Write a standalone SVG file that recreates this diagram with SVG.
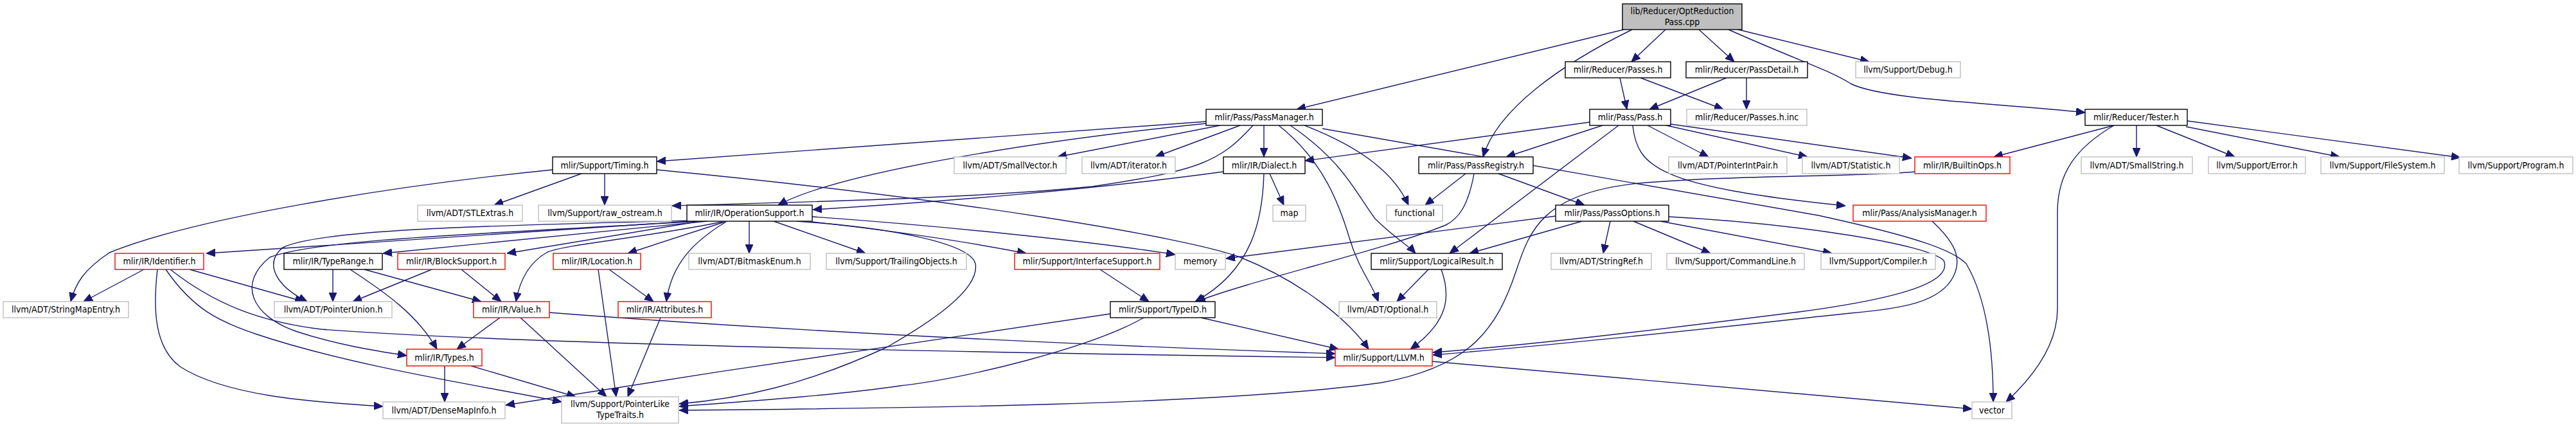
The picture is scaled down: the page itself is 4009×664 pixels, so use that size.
<svg xmlns="http://www.w3.org/2000/svg" width="4009" height="664" viewBox="0 0 4009 664">
<defs>
<marker id="ah" markerUnits="userSpaceOnUse" markerWidth="14" markerHeight="12" refX="14" refY="6" orient="auto"><path d="M0,0 L14,6 L0,12 z" fill="#191970" stroke="#191970" stroke-width="1"/></marker>
<style>
.n rect{fill:#fff;stroke-width:1.4}
.b rect{stroke:#000}
.g rect{stroke:#bfbfbf}
.r rect{stroke:#ff0000}
.root rect{fill:#bfbfbf;stroke:#000}
text{font-family:"DejaVu Sans Condensed","DejaVu Sans",sans-serif;font-stretch:condensed;font-size:14px;fill:#000;text-anchor:middle}
#edges path{fill:none;stroke:#191970;stroke-width:1.4;marker-end:url(#ah)}
</style>
</defs>
<rect width="4009" height="664" fill="#fff"/>
<g id="edges">
<path d="M2527,46 L2018,170"/>
<path d="M2540,46 C2430,100 2330,170 2308,244"/>
<path d="M2592,46 L2539,96"/>
<path d="M2644,46 L2699,96"/>
<path d="M2705,46 L2909,96"/>
<path d="M2690,46 C2800,95 2850,110 2880,130 C2930,155 3100,160 3245,175"/>
<path d="M2521,121 L2532,170"/>
<path d="M2553,121 L2682,170"/>
<path d="M2687,121 L2567,170"/>
<path d="M2718,121 L2718,170"/>
<path d="M2474,190 L2031,250"/>
<path d="M2494,195 L2344,244"/>
<path d="M2519,195 L2256,394"/>
<path d="M2564,195 L2659,244"/>
<path d="M2593,195 L2813,244"/>
<path d="M2600,193 L2975,246"/>
<path d="M2541,195 C2548,260 2580,290 2872,320"/>
<path d="M3290,195 L3103,244"/>
<path d="M3325,195 L3325,244"/>
<path d="M3356,195 L3478,244"/>
<path d="M3402,197 L3641,244"/>
<path d="M3404,188 L3829,245"/>
<path d="M3290,195 C3230,230 3202,270 3202,330 L3202,480 C3202,540 3160,590 3122,625"/>
<path d="M1877,189 L1022,251"/>
<path d="M1877,192 C1600,220 1300,270 1211,319"/>
<path d="M1899,195 L1646,244"/>
<path d="M1930,195 L1798,244"/>
<path d="M1950,195 C1900,250 1870,265 1700,290 C1500,310 1200,315 1046,320"/>
<path d="M1967,195 L1967,244"/>
<path d="M1990,195 C2060,250 2085,320 2100,370 C2115,420 2135,440 2145,469"/>
<path d="M2008,195 C2090,250 2110,300 2140,340 C2170,370 2190,380 2203,394"/>
<path d="M2030,195 C2120,230 2170,270 2192,319"/>
<path d="M2058,200 L2830,335 C2990,370 3040,390 3060,410 C3095,470 3102,560 3102,625"/>
<path d="M905,270 L769,319"/>
<path d="M941,270 L941,319"/>
<path d="M860,264 C600,290 300,340 170,393 C130,420 118,440 110,469"/>
<path d="M1022,264 C1500,310 1850,370 1930,400 C2030,440 2100,500 2130,543"/>
<path d="M1904,267 C1700,295 1450,315 1265,326"/>
<path d="M1976,270 L1998,319"/>
<path d="M1967,270 C1965,340 1950,420 1860,469"/>
<path d="M2281,270 L2218,319"/>
<path d="M2332,270 L2466,319"/>
<path d="M2294,270 C2285,320 2270,340 2250,350 C2150,390 1950,435 1862,469"/>
<path d="M2421,336 L1908,402"/>
<path d="M2462,344 L2287,394"/>
<path d="M2506,344 L2495,394"/>
<path d="M2542,344 L2662,394"/>
<path d="M2584,344 L2851,394"/>
<path d="M2597,337 C2800,348 3000,380 3025,405 C3040,440 2950,465 2800,485 C2600,510 2400,535 2230,548"/>
<path d="M3007,344 C3040,375 3055,400 3040,430 C3020,470 2960,480 2880,487 C2800,495 2500,530 2230,552"/>
<path d="M2981,267 C2900,275 2700,272 2550,285 C2400,300 2380,360 2360,420 C2330,510 2290,570 2150,595 C1900,630 1400,635 1057,638"/>
<path d="M1869,494 L2083,543"/>
<path d="M1728,488 C1500,520 1100,580 787,630"/>
<path d="M1780,494 C1700,540 1500,590 1400,600 C1300,615 1150,625 1057,632"/>
<path d="M1712,419 L1788,469"/>
<path d="M2223,419 L2174,469"/>
<path d="M2243,419 C2258,460 2255,500 2195,543"/>
<path d="M2229,562 L3069,636"/>
<path d="M1075,344 L321,394"/>
<path d="M1100,344 L596,394"/>
<path d="M1075,343 C800,350 500,355 440,385 C410,410 430,445 478,469"/>
<path d="M1085,344 C800,362 500,370 420,400 C370,440 390,490 460,515 C520,535 580,545 633,553"/>
<path d="M1084,345 L789,394"/>
<path d="M1124,345 C1000,370 880,380 852,392 C820,410 808,440 803,469"/>
<path d="M1128,345 L977,394"/>
<path d="M1130,345 C1080,375 1045,410 1037,469"/>
<path d="M1166,344 L1166,394"/>
<path d="M1204,344 L1347,394"/>
<path d="M1264,345 C1400,360 1500,375 1597,394"/>
<path d="M1264,337 C1450,350 1700,375 1829,396"/>
<path d="M1240,344 C1400,355 1510,380 1518,410 C1525,450 1450,500 1380,540 C1250,600 1150,620 1057,628"/>
<path d="M948,419 L1017,469"/>
<path d="M931,419 L959,617"/>
<path d="M778,494 L711,543"/>
<path d="M810,494 L944,617"/>
<path d="M855,486 C1100,505 1500,530 2078,550"/>
<path d="M1028,494 L977,617"/>
<path d="M692,569 L692,625"/>
<path d="M733,569 L896,617"/>
<path d="M224,419 L130,469"/>
<path d="M295,419 L473,469"/>
<path d="M245,419 C238,480 240,540 280,570 C350,615 480,625 596,632"/>
<path d="M258,419 C300,480 340,500 400,520 C550,570 750,600 874,625"/>
<path d="M265,419 C330,470 400,500 500,512 C800,535 1500,548 2078,556"/>
<path d="M518,419 L518,469"/>
<path d="M545,419 C600,455 650,490 680,543"/>
<path d="M567,419 L749,469"/>
<path d="M672,419 L549,469"/>
<path d="M718,419 L780,469"/>
</g>
<g id="n_root" class="n root"><rect x="2525" y="6" width="186" height="40"/><text x="2618" y="22">lib/Reducer/OptReduction</text><text x="2618" y="39">Pass.cpp</text></g>
<g id="n_passes" class="n b"><rect x="2436" y="96" width="164" height="25"/><text x="2518" y="113">mlir/Reducer/Passes.h</text></g>
<g id="n_passdetail" class="n b"><rect x="2624" y="96" width="189" height="25"/><text x="2718.5" y="113">mlir/Reducer/PassDetail.h</text></g>
<g id="n_debug" class="n g"><rect x="2888" y="96" width="163" height="25"/><text x="2969.5" y="113">llvm/Support/Debug.h</text></g>
<g id="n_passmanager" class="n b"><rect x="1877" y="170" width="181" height="25"/><text x="1967.5" y="187">mlir/Pass/PassManager.h</text></g>
<g id="n_pass" class="n b"><rect x="2474" y="170" width="126" height="25"/><text x="2537" y="187">mlir/Pass/Pass.h</text></g>
<g id="n_passesinc" class="n g"><rect x="2625" y="170" width="187" height="25"/><text x="2718.5" y="187">mlir/Reducer/Passes.h.inc</text></g>
<g id="n_tester" class="n b"><rect x="3245" y="170" width="159" height="25"/><text x="3324.5" y="187">mlir/Reducer/Tester.h</text></g>
<g id="n_timing" class="n b"><rect x="860" y="244" width="162" height="26"/><text x="941" y="262">mlir/Support/Timing.h</text></g>
<g id="n_smallvector" class="n g"><rect x="1485" y="244" width="174" height="26"/><text x="1572" y="262">llvm/ADT/SmallVector.h</text></g>
<g id="n_iterator" class="n g"><rect x="1684" y="244" width="145" height="26"/><text x="1756.5" y="262">llvm/ADT/iterator.h</text></g>
<g id="n_dialect" class="n b"><rect x="1904" y="244" width="127" height="26"/><text x="1967.5" y="262">mlir/IR/Dialect.h</text></g>
<g id="n_passregistry" class="n b"><rect x="2208" y="244" width="178" height="26"/><text x="2297" y="262">mlir/Pass/PassRegistry.h</text></g>
<g id="n_pointerintpair" class="n g"><rect x="2597" y="244" width="184" height="26"/><text x="2689" y="262">llvm/ADT/PointerIntPair.h</text></g>
<g id="n_statistic" class="n g"><rect x="2805" y="244" width="151" height="26"/><text x="2880.5" y="262">llvm/ADT/Statistic.h</text></g>
<g id="n_builtinops" class="n r"><rect x="2980" y="244" width="148" height="26"/><text x="3054" y="262">mlir/IR/BuiltinOps.h</text></g>
<g id="n_smallstring" class="n g"><rect x="3239" y="244" width="173" height="26"/><text x="3325.5" y="262">llvm/ADT/SmallString.h</text></g>
<g id="n_error" class="n g"><rect x="3437" y="244" width="151" height="26"/><text x="3512.5" y="262">llvm/Support/Error.h</text></g>
<g id="n_filesystem" class="n g"><rect x="3612" y="244" width="192" height="26"/><text x="3708" y="262">llvm/Support/FileSystem.h</text></g>
<g id="n_program" class="n g"><rect x="3827" y="244" width="177" height="26"/><text x="3915.5" y="262">llvm/Support/Program.h</text></g>
<g id="n_stlextras" class="n g"><rect x="650" y="319" width="163" height="25"/><text x="731.5" y="336">llvm/ADT/STLExtras.h</text></g>
<g id="n_rawostream" class="n g"><rect x="838" y="319" width="207" height="25"/><text x="941.5" y="336">llvm/Support/raw_ostream.h</text></g>
<g id="n_opsupport" class="n b"><rect x="1069" y="319" width="195" height="25"/><text x="1166.5" y="336">mlir/IR/OperationSupport.h</text></g>
<g id="n_map" class="n g"><rect x="1981" y="319" width="51" height="25"/><text x="2006.5" y="336">map</text></g>
<g id="n_functional" class="n g"><rect x="2158" y="319" width="87" height="25"/><text x="2201.5" y="336">functional</text></g>
<g id="n_passoptions" class="n b"><rect x="2421" y="319" width="176" height="25"/><text x="2509" y="336">mlir/Pass/PassOptions.h</text></g>
<g id="n_analysismanager" class="n r"><rect x="2884" y="319" width="207" height="25"/><text x="2987.5" y="336">mlir/Pass/AnalysisManager.h</text></g>
<g id="n_identifier" class="n r"><rect x="179" y="394" width="138" height="25"/><text x="248" y="411">mlir/IR/Identifier.h</text></g>
<g id="n_typerange" class="n b"><rect x="442" y="394" width="153" height="25"/><text x="518.5" y="411">mlir/IR/TypeRange.h</text></g>
<g id="n_blocksupport" class="n r"><rect x="619" y="394" width="167" height="25"/><text x="702.5" y="411">mlir/IR/BlockSupport.h</text></g>
<g id="n_location" class="n r"><rect x="861" y="394" width="136" height="25"/><text x="929" y="411">mlir/IR/Location.h</text></g>
<g id="n_bitmaskenum" class="n g"><rect x="1072" y="394" width="189" height="25"/><text x="1166.5" y="411">llvm/ADT/BitmaskEnum.h</text></g>
<g id="n_trailingobjects" class="n g"><rect x="1286" y="394" width="218" height="25"/><text x="1395" y="411">llvm/Support/TrailingObjects.h</text></g>
<g id="n_interfacesupport" class="n r"><rect x="1579" y="394" width="226" height="25"/><text x="1692" y="411">mlir/Support/InterfaceSupport.h</text></g>
<g id="n_memory" class="n g"><rect x="1829" y="394" width="78" height="25"/><text x="1868" y="411">memory</text></g>
<g id="n_logicalresult" class="n b"><rect x="2134" y="394" width="204" height="25"/><text x="2236" y="411">mlir/Support/LogicalResult.h</text></g>
<g id="n_stringref" class="n g"><rect x="2414" y="394" width="156" height="25"/><text x="2492" y="411">llvm/ADT/StringRef.h</text></g>
<g id="n_commandline" class="n g"><rect x="2594" y="394" width="214" height="25"/><text x="2701" y="411">llvm/Support/CommandLine.h</text></g>
<g id="n_compiler" class="n g"><rect x="2834" y="394" width="178" height="25"/><text x="2923" y="411">llvm/Support/Compiler.h</text></g>
<g id="n_stringmapentry" class="n g"><rect x="5" y="469" width="195" height="25"/><text x="102.5" y="486">llvm/ADT/StringMapEntry.h</text></g>
<g id="n_pointerunion" class="n g"><rect x="427" y="469" width="183" height="25"/><text x="518.5" y="486">llvm/ADT/PointerUnion.h</text></g>
<g id="n_value" class="n r"><rect x="737" y="469" width="118" height="25"/><text x="796" y="486">mlir/IR/Value.h</text></g>
<g id="n_attributes" class="n r"><rect x="962" y="469" width="145" height="25"/><text x="1034.5" y="486">mlir/IR/Attributes.h</text></g>
<g id="n_typeid" class="n b"><rect x="1728" y="469" width="163" height="25"/><text x="1809.5" y="486">mlir/Support/TypeID.h</text></g>
<g id="n_optional" class="n g"><rect x="2084" y="469" width="152" height="25"/><text x="2160" y="486">llvm/ADT/Optional.h</text></g>
<g id="n_types" class="n r"><rect x="633" y="543" width="117" height="26"/><text x="691.5" y="561">mlir/IR/Types.h</text></g>
<g id="n_llvm" class="n r"><rect x="2078" y="543" width="151" height="26"/><text x="2153.5" y="561">mlir/Support/LLVM.h</text></g>
<g id="n_densemapinfo" class="n g"><rect x="596" y="625" width="190" height="26"/><text x="691" y="643">llvm/ADT/DenseMapInfo.h</text></g>
<g id="n_pointerliketypetraits" class="n g"><rect x="874" y="617" width="182" height="41"/><text x="965" y="633">llvm/Support/PointerLike</text><text x="965" y="650">TypeTraits.h</text></g>
<g id="n_vector" class="n g"><rect x="3069" y="625" width="62" height="26"/><text x="3100" y="643">vector</text></g>
</svg>
